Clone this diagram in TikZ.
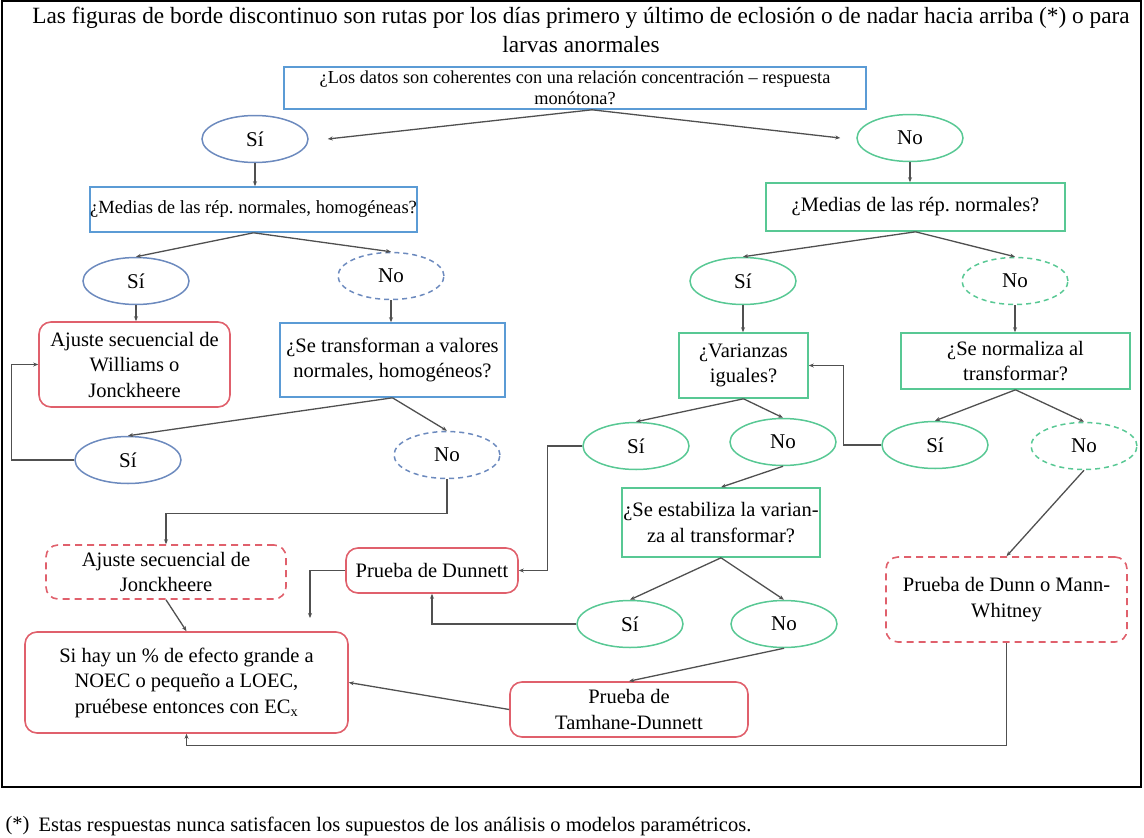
\documentclass[tikz,border=0pt]{standalone}
\usepackage{fontspec}
\setmainfont{Liberation Serif}
\usetikzlibrary{shapes.geometric,arrows.meta,calc}
\definecolor{qblue}{RGB}{91,155,213}
\definecolor{oblue}{RGB}{108,138,190}
\definecolor{qgreen}{RGB}{88,200,148}
\definecolor{qred}{RGB}{224,96,108}
\definecolor{linkgray}{RGB}{80,80,80}
\newcommand{\boxfont}{\fontsize{20.5}{25.5}\selectfont}
\newcommand{\topfont}{\fontsize{18.3}{21}\selectfont}
\newcommand{\ellfont}{\fontsize{21}{25}\selectfont}
\newcommand{\titlefont}{\fontsize{23.3}{29}\selectfont}
\frenchspacing
\tikzset{
  qrect/.style={rectangle,line width=1.6pt,align=center,inner sep=0pt,font=\boxfont},
  bluebox/.style={qrect,draw=qblue},
  greenbox/.style={qrect,draw=qgreen},
  redbox/.style={qrect,draw=qred,rounded corners=12pt},
  reddash/.style={redbox,dash pattern=on 7pt off 5pt},
  qell/.style={ellipse,line width=1.5pt,inner sep=0pt,minimum width=106pt,minimum height=47pt,font=\ellfont},
  blueell/.style={qell,draw=oblue},
  blueelldash/.style={blueell,dash pattern=on 5pt off 4pt},
  greenell/.style={qell,draw=qgreen},
  greenelldash/.style={greenell,dash pattern=on 5pt off 4pt},
  dims/.style 2 args={minimum width=#1pt,minimum height=#2pt},
  link/.style={draw=linkgray,line width=1.3pt,-{Stealth[length=5pt,width=4pt]}}
}

\begin{document}
\begin{tikzpicture}[x=1pt,y=-1pt]
\useasboundingbox (0,0) rectangle (1144,838);
\draw[line width=2.5pt] (2,1) rectangle (1141,787);

\node[align=center,font=\titlefont] (title) at (581,30) {Las figuras de borde discontinuo son rutas por los días primero y último de eclosión o de nadar hacia arriba (*) o para\\larvas anormales};

\node[bluebox,dims={582}{42},font=\topfont] (monot) at (575,88) {¿Los datos son coherentes con una relación concentración – respuesta\\monótona?};
\node[blueell] (siA) at (255,139) {Sí};
\node[greenell] (noA) at (910,138) {No};

\node[bluebox,dims={323}{45},font=\fontsize{18.6}{22}\selectfont] (medHom) at (253.5,209.5) {¿Medias de las rép. normales, homogéneas?};
\node[greenbox,dims={299}{48}] (medNorm) at (915.5,207) {¿Medias de las rép. normales?};

\node[blueell] (siB) at (136,281) {Sí};
\node[blueelldash] (noB) at (391,276) {No};
\node[greenell] (siC) at (743,281) {Sí};
\node[greenelldash] (noC) at (1015,281) {No};

\node[redbox,dims={191}{85}] (williams) at (134.5,364.5) {Ajuste secuencial de\\Williams o\\Jonckheere};
\node[bluebox,dims={225}{74}] (transf) at (392.5,360) {¿Se transforman a valores\\normales, homogéneos?};
\node[greenbox,dims={129}{65}] (varIg) at (743.5,365.5) {¿Varianzas\\iguales?};
\node[greenbox,dims={229}{56}] (normTr) at (1015.5,361) {¿Se normaliza al\\transformar?};

\node[blueell] (siD) at (128,460) {Sí};
\node[blueelldash] (noD) at (447,455) {No};
\node[greenell] (siE) at (636,446) {Sí};
\node[greenell] (noE) at (783,442) {No};
\node[greenell] (siF) at (935,445) {Sí};
\node[greenelldash] (noF) at (1084,446) {No};

\node[greenbox,dims={198}{69}] (estab) at (721,522.5) {¿Se estabiliza la varian-\\za al transformar?};
\node[reddash,dims={240}{54}] (jonck) at (166,572) {Ajuste secuencial de\\Jonckheere};
\node[redbox,dims={172}{45}] (dunnett) at (432,570.5) {Prueba de Dunnett};
\node[reddash,dims={241}{85}] (mannW) at (1006.5,599.5) {Prueba de Dunn o Mann-\\Whitney};

\node[greenell] (siG) at (630,624) {Sí};
\node[greenell] (noG) at (784,624) {No};

\node[redbox,dims={323}{101}] (noec) at (186.5,682.5) {Si hay un \% de efecto grande a\\NOEC o pequeño a LOEC,\\pruébese entonces con EC\textsubscript{x}};
\node[redbox,dims={238}{55}] (tamhane) at (629,709.5) {Prueba de\\Tamhane-Dunnett};

\coordinate (dunnEnd) at (310,618);

\draw[link] ([xshift=17pt]monot.south) -- ([xshift=19pt]siA.east);
\draw[link] ([xshift=17pt]monot.south) -- ([xshift=-16pt]noA.west);
\draw[link] (siA.south) -- (siA.south |- medHom.north);
\draw[link] (noA.south) -- (noA.south |- medNorm.north);
\draw[link] (medHom.south) -- (siB.north);
\draw[link] (medHom.south) -- (noB.north);
\draw[link] (medNorm.south) -- (siC.north);
\draw[link] (medNorm.south) -- (noC.north);
\draw[link] (siB.south) -- (siB.south |- williams.north);
\draw[link] (noB.south) -- (noB.south |- transf.north);
\draw[link] (siC.south) -- (siC.south |- varIg.north);
\draw[link] (noC.south) -- (noC.south |- normTr.north);
\draw[link] (transf.south) -- (siD.north);
\draw[link] (transf.south) -- (noD.north);
\draw[link] (varIg.south) -- (siE.north);
\draw[link] (varIg.south) -- (noE.north);
\draw[link] (normTr.south) -- (siF.north);
\draw[link] (normTr.south) -- (noF.north);
\draw[link] (siD.west) -- ++(-63,0) |- (williams.west);
\draw[link] (noD.south) -- ++(0,34) -| (jonck.north);
\draw[link] (siF.west) -- ++(-38,0) |- (varIg.east);
\draw[link] (siE.west) -- ++(-35,0) |- (dunnett.east);
\draw[link] (noE.south) -- (estab.north);
\draw[link] (noF.south) -- (mannW.north);
\draw[link] (estab.south) -- (siG.north);
\draw[link] (estab.south) -- (noG.north);
\draw[link] (siG.west) -| (dunnett.south);
\draw[link] (noG.south) -- (tamhane.north);
\draw[link] (dunnett.west) -| (dunnEnd);
\draw[link] (jonck.south) -- (noec.north);
\draw[link] (tamhane.west) -- (noec.east);
\draw[link] (mannW.south) -- ++(0,103) -| (noec.south);

\node[anchor=west,font=\boxfont] (fnMark) at (2,826) {(*)};
\node[anchor=west,font=\boxfont] (fnText) at (35,826) {Estas respuestas nunca satisfacen los supuestos de los análisis o modelos paramétricos.};
\end{tikzpicture}
\end{document}
